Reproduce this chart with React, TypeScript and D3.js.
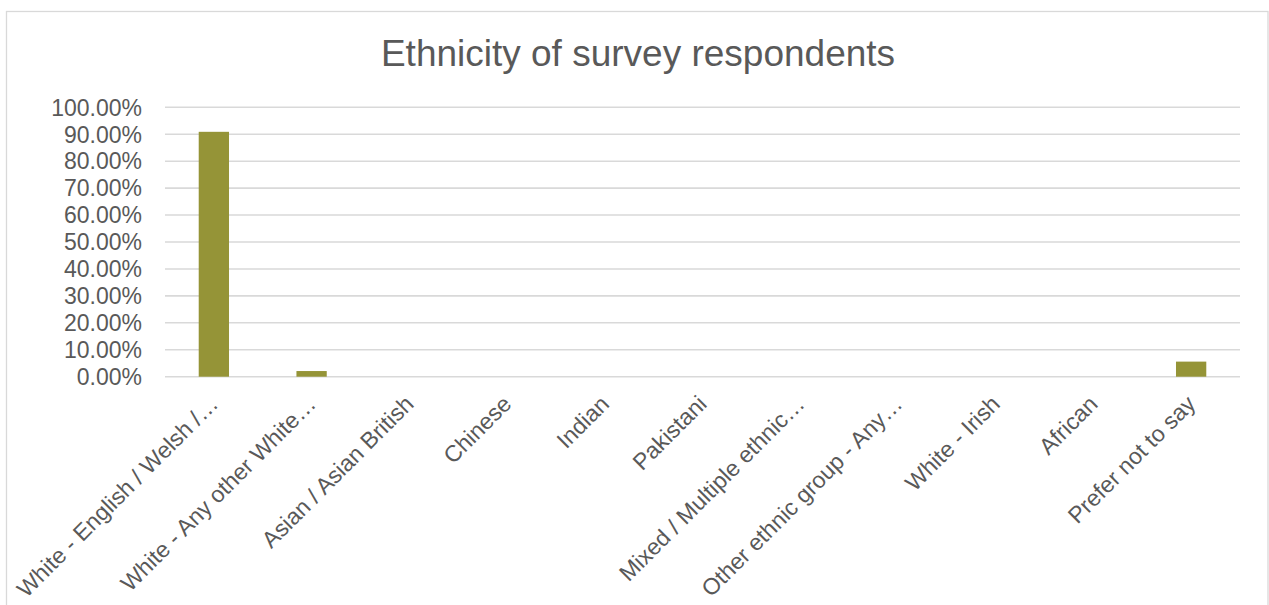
import React from "react";
import * as d3 from "d3";

const title = "Ethnicity of survey respondents";

const categories: string[] = [
  "White - English / Welsh /…",
  "White - Any other White…",
  "Asian / Asian British",
  "Chinese",
  "Indian",
  "Pakistani",
  "Mixed / Multiple ethnic…",
  "Other ethnic group - Any…",
  "White - Irish",
  "African",
  "Prefer not to say",
];

const shares: number[] = [0.909, 0.021, 0, 0, 0, 0, 0, 0, 0, 0, 0.056];

const yTicks: number[] = [0, 0.1, 0.2, 0.3, 0.4, 0.5, 0.6, 0.7, 0.8, 0.9, 1.0];

const W = 1269;
const H = 605;
const FONT = "'Liberation Sans', Arial, Helvetica, sans-serif";
const TEXT = "#595959";
const GRID = "#d9d9d9";
const BAR = "#959437";

export default function App() {
  const plotLeft = 165;
  const plotRight = 1240;
  const plotTop = 107.3;
  const plotBottom = 376.7;

  const x = d3
    .scaleBand<string>()
    .domain(categories)
    .range([plotLeft, plotRight])
    .paddingInner(0.69)
    .paddingOuter(0.345);

  const y = d3.scaleLinear().domain([0, 1]).range([plotBottom, plotTop]);
  const fmt = d3.format(".2%");

  const step = (plotRight - plotLeft) / categories.length;

  return (
    <svg
      width={W}
      height={H}
      style={{ position: "absolute", left: 0, top: 0, background: "#fff" }}
      fontFamily={FONT}
    >
      <rect x={6.5} y={11.5} width={1261.5} height={620} fill="#fff" stroke={GRID} strokeWidth={1.3} />

      <text x={638} y={66} textAnchor="middle" fontSize={37} fill={TEXT}>
        {title}
      </text>

      {yTicks.map((t) => (
        <g key={t}>
          <line x1={plotLeft} x2={plotRight} y1={y(t)} y2={y(t)} stroke={GRID} strokeWidth={1.6} />
          <text x={142} y={y(t)} dy="0.36em" textAnchor="end" fontSize={23} fill={TEXT}>
            {fmt(t)}
          </text>
        </g>
      ))}

      {categories.map((c, i) =>
        shares[i] > 0 ? (
          <rect
            key={c}
            x={x(c)}
            y={y(shares[i])}
            width={x.bandwidth()}
            height={y(0) - y(shares[i])}
            fill={BAR}
          />
        ) : null
      )}

      {categories.map((c, i) => {
        const cx = plotLeft + step * (i + 0.5);
        return (
          <text
            key={c}
            transform={`translate(${cx},${plotBottom + 23}) rotate(-45)`}
            textAnchor="end"
            dy="0.35em"
            fontSize={23}
            fill={TEXT}
          >
            {c}
          </text>
        );
      })}
    </svg>
  );
}
